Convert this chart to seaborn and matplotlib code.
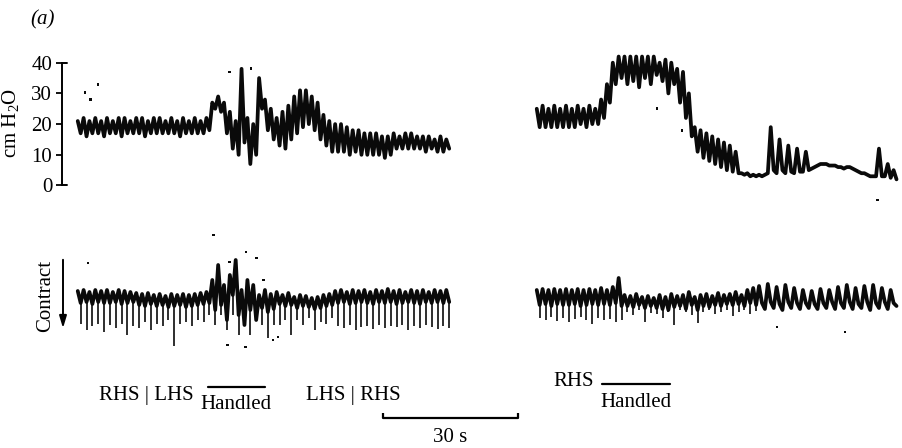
import numpy as np
import matplotlib
matplotlib.use("Agg")
import matplotlib.pyplot as plt
import seaborn as sns

# ---------------- recorded traces ----------------
# Samples are taken every half respiratory cycle.
STEP = 0.65                      # s between samples
LEFT_START, RIGHT_START = 3.5, 105.5   # s, start of each recording strip

# Pressure (cm H2O)
left_pressure = [
    21, 17, 22, 16, 21, 17, 22, 17, 21, 16,
    22, 17, 21, 17, 22, 16, 22, 17, 21, 17,
    22, 17, 22, 16, 21, 17, 22, 17, 22, 17,
    21, 17, 22, 17, 21, 16, 22, 17, 21, 17,
    22, 17, 21, 17, 22, 18,
    27, 25, 29, 24, 27, 17, 24, 12, 21, 10,
    38, 14, 22, 7, 20, 10, 35, 25, 28, 18,
    25, 15, 22, 13, 24, 12, 26, 15, 29, 17,
    31, 19, 31, 20, 29, 18, 27, 15, 23, 13,
    21, 11, 20, 11, 20, 11, 19, 10, 18, 11,
    18, 10, 17, 10, 17, 10, 17, 10, 16, 9,
    16, 10, 17, 12, 16, 12, 17, 12, 17, 12,
    16, 12, 16, 11, 16, 12, 15, 11, 16, 11,
    15, 12,
]
right_pressure = [
    25, 19, 26, 19, 25, 19, 26, 19, 25, 19,
    26, 19, 25, 19, 26, 20, 25, 19, 26, 20,
    25, 20,
    28, 22, 33, 27, 40, 33, 42, 35, 42, 33,
    42, 34, 42, 32, 42, 35, 42, 33, 42, 36,
    40, 34, 41, 30, 40, 33, 38, 27, 37, 22,
    30, 16,
    19, 11, 18, 9, 17, 8, 16, 7, 15, 6,
    14, 5, 13, 4.5, 11, 4, 4, 3.5, 4, 3,
    3.5, 3, 3.5, 3, 3.5, 4,
    19, 5, 4, 15, 5, 4, 13, 4.5, 4, 12,
    4.5, 4.5, 11, 5, 5.5, 6, 6.5, 7, 7, 7,
    6.5, 6.5, 6.5, 6, 6, 5.5, 6, 6, 5.5, 5,
    4.5, 4, 4, 3.5, 3, 3, 3, 12, 3, 3,
    7, 2.5, 5, 2,
]

# Abdominal movement (arbitrary units, downward = contraction)
left_contract = [
    0.9, -0.3, 1.0, -0.2, 0.8, -0.4, 1.0, -0.2, 0.9, -0.3,
    1.0, -0.3, 0.8, -0.2, 1.0, -0.4, 0.9, -0.3, 0.8, -0.2,
    0.7, -0.5, 0.6, -0.6, 0.7, -0.4, 0.5, -0.6, 0.6, -0.5,
    0.4, -0.7, 0.6, -0.6, 0.5, -0.5, 0.6, -0.7, 0.5, -0.6,
    0.6, -0.5, 0.7, -0.4, 0.8, -0.3,
    2.0, -1.0, 3.5, -0.5, 1.5, -2.0, 2.5, 0.5, 4.0, -1.5,
    1.0, -2.5, 2.0, -1.0, 1.5, -2.0, 0.5, -0.8, 1.0, -1.2,
    0.6, -0.9,
    0.8, -0.4, 0.5, -0.6, 0.7, -0.5, 0.3, -0.8, 0.5, -0.6,
    0.4, -0.7, 0.2, -0.9, 0.3, -0.8, 0.5, -0.6, 0.6, -0.5,
    0.9, -0.3, 1.0, -0.2, 0.8, -0.4, 1.0, -0.3, 0.9, -0.2,
    1.0, -0.3, 0.8, -0.4, 1.0, -0.2, 0.9, -0.3, 1.1, -0.2,
    0.9, -0.4, 1.0, -0.3, 0.8, -0.2, 1.0, -0.3, 0.9, -0.4,
    1.0, -0.2, 0.8, -0.3, 1.0, -0.2, 0.9, -0.3, 1.0, -0.2,
]
# depth of the contraction stroke in each cycle
left_dips = [
    -2.4, -3.0, -2.6, -2.4, -3.2, -2.5, -2.8, -2.4, -3.5, -2.6,
    -2.8, -2.2, -3.0, -2.4, -2.6, -2.0, -4.6, -2.4, -2.2, -2.6,
    -2.0, -2.2, -1.5,
    -2.5, -1.5, -3.0, -1.5, -3.5, -2.0, -3.5, -1.5, -2.5, -3.8, -2.5,
    -2.5, -2.0, -3.5, -2.0, -2.5, -1.8, -3.0, -2.2, -2.4, -1.8,
    -2.6, -2.8, -2.5, -3.0, -2.7, -2.6, -2.9, -2.5, -2.8, -2.6,
    -2.7, -2.5, -3.0, -2.6, -2.8, -2.5, -2.7, -2.9, -2.6, -2.8,
]
right_contract = [
    1.0, -0.5, 1.1, -0.4, 1.0, -0.6, 1.1, -0.4, 1.0, -0.5,
    1.1, -0.5, 1.0, -0.4, 1.1, -0.6, 1.0, -0.5, 1.1, -0.4,
    1.0, -0.5, 1.2, -0.4, 1.0, -0.5, 1.3, -0.3,
    2.2, -0.6,
    0.5, -0.6, 0.4, -0.7, 0.6, -0.5, 0.3, -0.8, 0.4, -0.6,
    0.2, -0.8, 0.5, -0.9, 0.3, -1.0, 0.6, -0.7, 0.4, -0.6,
    0.5, -0.9, 0.8, -0.5, 0.3, -1.0, 0.5, -0.6, 0.6, -0.7,
    0.4, -0.5, 0.7, -0.6, 0.5, -0.4, 0.6, -0.5, 0.8, -0.4,
    0.5, -0.6, 1.0, -0.3, 1.2, -0.5,
    1.4, -0.3, -0.9, 1.6, -0.2, -0.8, 1.3, -0.4, -1.0, 1.5,
    -0.2, -0.8, 1.2, -0.3, -0.9, 1.0, -0.3, -0.8, 0.9, -0.4,
    -0.9, 1.1, -0.3, -0.8, 1.0, -0.2, -0.9, 1.3, -0.3, -0.8,
    1.5, -0.2, -0.9, 1.2, -0.4, -0.8, 1.4, -0.2, -1.0, 1.5,
    -0.3, -0.8, 1.2, -0.2, -0.9, 1.0, -0.3, -0.6,
]
right_dips = [
    -1.8, -2.0, -1.7, -2.1, -1.8, -2.2, -1.9, -1.7, -2.0, -2.4,
    -1.8, -2.0, -1.9, -2.2,
    -2.0,
    -1.2, -1.5, -1.0, -2.2, -1.3, -1.4, -1.8, -1.2, -2.5, -1.0,
    -1.2, -1.5, -2.3, -1.2, -1.0, -1.4, -1.2, -1.0, -1.6, -1.2,
    -1.0, -1.4, -1.1,
] + [np.nan] * 24

# stray ink dots on the chart paper
pressure_speck_t = [5.1, 8.0, 6.4, 37.3, 42.0, 137.8, 132.2, 181.3]
pressure_speck_v = [30.2, 32.8, 27.9, 37.0, 38.0, 18.0, 25.0, -4.7]
contract_speck_t = [5.8, 33.6, 40.9, 37.3, 43.3, 44.7, 36.7, 40.7, 46.9, 48.0, 158.9, 174.0]
contract_speck_v = [3.7, 6.5, 4.8, 3.8, 4.2, 2.0, -4.5, -4.7, -4.0, -3.7, -2.7, -3.2]

pressure_ticks = [0, 10, 20, 30, 40]
handled_left = (32.4, 45.1)      # s
handled_right = (120.0, 135.1)   # s
scale_bar = (71.3, 101.3)        # 30 s

# ---------------- figure ----------------
sns.set_theme(style="white")
plt.rcParams["font.family"] = ["Liberation Serif", "DejaVu Serif"]
plt.rcParams["text.color"] = "black"

W, H = 902, 448
PX_PER_S = 4.5
fig = plt.figure(figsize=(W / 100, H / 100), dpi=100)


def box(x0, y0, x1, y1):
    return [x0 / W, 1 - y1 / H, (x1 - x0) / W, (y1 - y0) / H]


ax_p = fig.add_axes(box(62, 62.7, W, 185.5))
ax_c = fig.add_axes(box(62, 250, W, 350))
for ax in (ax_p, ax_c):
    ax.set_xlim(0, (W - 62) / PX_PER_S)
    ax.patch.set_alpha(0)
    for s in ax.spines.values():
        s.set_visible(False)
    ax.set_xticks([])
ax_p.set_ylim(0, 40)
ax_c.set_ylim(-5, 5)
ax_c.set_yticks([])


def times(start, n):
    return start + STEP * np.arange(n)


INK = "#0a0a0a"

# pressure traces
for start, vals in ((LEFT_START, left_pressure), (RIGHT_START, right_pressure)):
    sns.lineplot(x=times(start, len(vals)), y=vals, ax=ax_p, color=INK,
                 lw=2.7, estimator=None, sort=False)

# contraction traces: baseline wiggle plus thin downward strokes
for start, vals, dips in ((LEFT_START, left_contract, left_dips),
                          (RIGHT_START, right_contract, right_dips)):
    t = times(start, len(vals))
    sns.lineplot(x=t, y=vals, ax=ax_c, color=INK, lw=2.7,
                 estimator=None, sort=False)
    td = t[1::2][:len(dips)]
    vd = np.asarray(vals)[1::2][:len(dips)]
    d = np.asarray(dips, dtype=float)
    ok = ~np.isnan(d)
    ax_c.vlines(td[ok], d[ok], vd[ok], color=INK, lw=1.2)

sns.scatterplot(x=pressure_speck_t, y=pressure_speck_v, ax=ax_p, color=INK,
                s=4, marker="s", edgecolor="none")
sns.scatterplot(x=contract_speck_t, y=contract_speck_v, ax=ax_c, color=INK,
                s=4, marker="s", edgecolor="none")

for ax in (ax_p, ax_c):
    for art in ax.lines + ax.collections:
        art.set_clip_on(False)

# pressure axis
ax_p.spines["left"].set_visible(True)
ax_p.spines["left"].set_color("black")
ax_p.spines["left"].set_linewidth(1.4)
ax_p.set_yticks(pressure_ticks)
ax_p.tick_params(axis="y", left=True, direction="out", length=4, width=1.3,
                 labelsize=15, pad=3, colors="black")
ycap = ax_p.get_yaxis_transform()
for v in (pressure_ticks[0], pressure_ticks[-1]):
    ax_p.plot([0, 0.006], [v, v], color="black", lw=1.4, transform=ycap,
              clip_on=False)
ax_p.set_ylabel("")
fig.text(11 / W, 1 - 123 / H, r"cm H$_\mathregular{2}$O", rotation=90,
         ha="center", va="center", fontsize=15)
fig.text(43 / W, 1 - 20 / H, "(a)", ha="center", va="center",
         fontsize=15, fontstyle="italic")

# contraction direction
fig.text(46 / W, 1 - 296 / H, "Contract", rotation=90, ha="center",
         va="center", fontsize=15)
ax_c.annotate("", xy=(63, H - 331), xytext=(63, H - 257),
              xycoords="figure pixels", textcoords="figure pixels",
              arrowprops=dict(arrowstyle="-|>,head_length=0.6,head_width=0.18",
                              color="black", lw=1.4))

# event markers and time scale below the traces
FS = 15
ax_c.text(18.8, -9.5, "RHS | LHS", ha="center", va="center", fontsize=FS)
ax_c.plot(handled_left, [-8.7, -8.7], color="black", lw=1.6, clip_on=False)
ax_c.text(sum(handled_left) / 2, -10.4, "Handled", ha="center", va="center",
          fontsize=FS)
ax_c.text(64.8, -9.5, "LHS | RHS", ha="center", va="center", fontsize=FS)
ax_c.text(113.6, -8.1, "RHS", ha="center", va="center", fontsize=FS)
ax_c.plot(handled_right, [-8.4, -8.4], color="black", lw=1.6, clip_on=False)
ax_c.text(sum(handled_right) / 2, -10.2, "Handled", ha="center", va="center",
          fontsize=FS)

ax_c.plot(scale_bar, [-11.8, -11.8], color="black", lw=1.6, clip_on=False)
ax_c.vlines(scale_bar, -11.8, -11.3, color="black", lw=1.6, clip_on=False)
ax_c.text(sum(scale_bar) / 2, -13.7, f"{scale_bar[1] - scale_bar[0]:.0f} s",
          ha="center", va="center", fontsize=FS)

fig.savefig("out.png", dpi=100, facecolor="white")
